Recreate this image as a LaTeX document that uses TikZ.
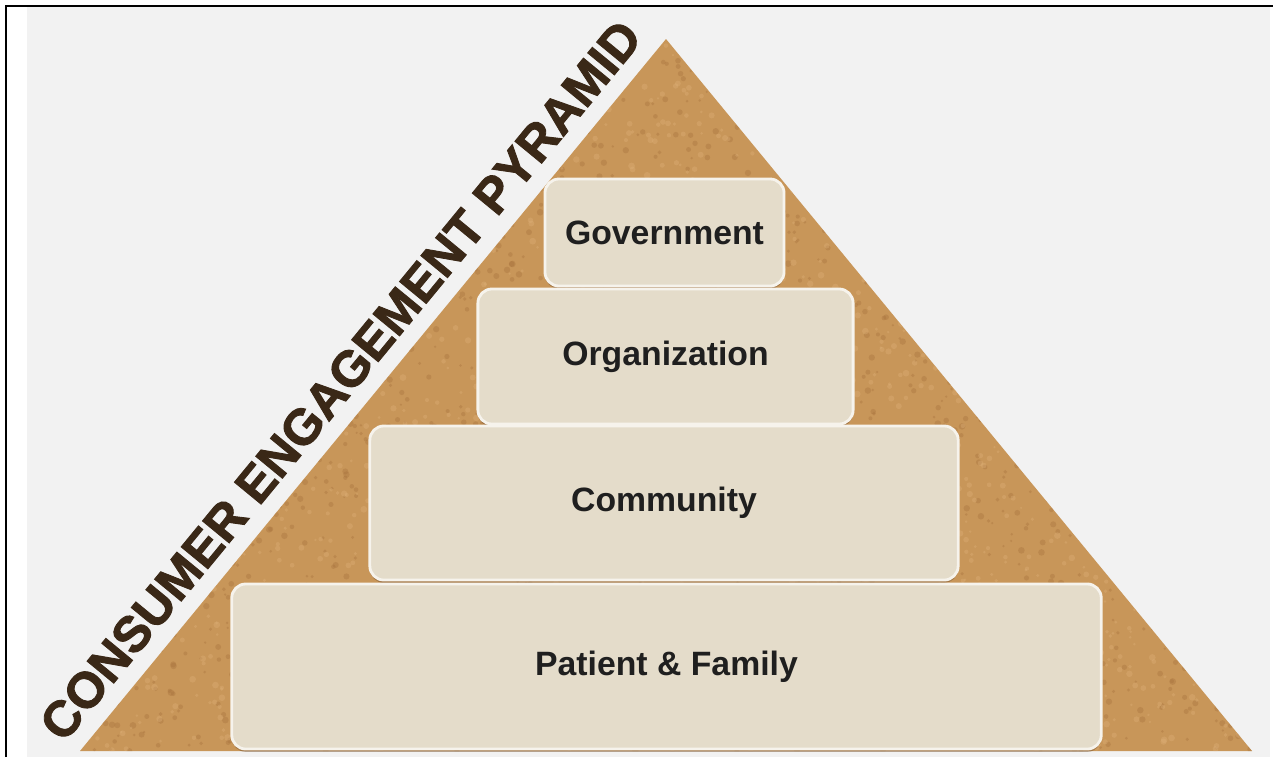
\documentclass[tikz,border=0pt]{standalone}
\usepackage{fontspec}
\setmainfont{Liberation Sans}
\newfontfamily\titlefont[FakeBold=1.8]{Liberation Sans Bold}
\usetikzlibrary{positioning,calc,shadows}

\definecolor{pagegray}{HTML}{F2F2F2}
\definecolor{cork}{HTML}{C89659}
\definecolor{corkdark}{HTML}{A56F3A}
\definecolor{corklight}{HTML}{DFB27A}
\definecolor{tierfill}{HTML}{E4DCCA}
\definecolor{inkbrown}{HTML}{3A2817}

\begin{document}
\begin{tikzpicture}[x=0.01cm,y=-0.01cm,
  tier/.style={draw=tierfill!35!white,line width=0.8pt,fill=tierfill,
    rounded corners=4pt,inner sep=0pt,text=black!88,
    font=\bfseries\fontsize{9.6}{11}\selectfont,
    drop shadow={shadow xshift=0pt,shadow yshift=-0.8pt,opacity=.45,fill=corkdark!70!black}},
  speck/.style={fill=#1,opacity=.35}]
\useasboundingbox (0,0) rectangle (1273,757);
\fill[white] (0,0) rectangle (1273,757);
\fill[pagegray] (27,7) rectangle (1270,757);
\draw[line width=0.6pt] (6,757) -- (6,6) -- (1273,6);

\coordinate (bl) at (80,751);
\coordinate (br) at (1252,751);
\coordinate (apex) at (666,39);

% cork pyramid
\fill[cork] (bl) -- (apex) -- (br) -- cycle;
\begin{scope}
\clip (bl) -- (apex) -- (br) -- cycle;
\pgfmathsetseed{41}
\foreach \i in {1,...,2600}
  \fill[speck=corkdark] ({80+1172*rnd},{39+712*rnd}) circle[radius={1.2+2.2*rnd}];
\foreach \i in {1,...,2600}
  \fill[speck=corklight] ({80+1172*rnd},{39+712*rnd}) circle[radius={1.2+2.2*rnd}];
\end{scope}

\path (bl) -- (apex) node[pos=0.49,sloped,above=4.5pt,inner sep=0pt,text=inkbrown,
  font=\titlefont\fontsize{14.3}{16}\selectfont] (title) {CONSUMER ENGAGEMENT PYRAMID};

\node[tier,minimum width=2.39cm,minimum height=1.07cm] (gov) at (664.5,232.5) {Government};
\node[tier,minimum width=3.75cm,minimum height=1.35cm] (org) at (665.5,356.5) {Organization};
\node[tier,minimum width=5.88cm,minimum height=1.54cm] (com) at (664,503) {Community};
\node[tier,minimum width=8.69cm,minimum height=1.65cm] (pat) at (666.5,666.5) {Patient \& Family};
\end{tikzpicture}
\end{document}
